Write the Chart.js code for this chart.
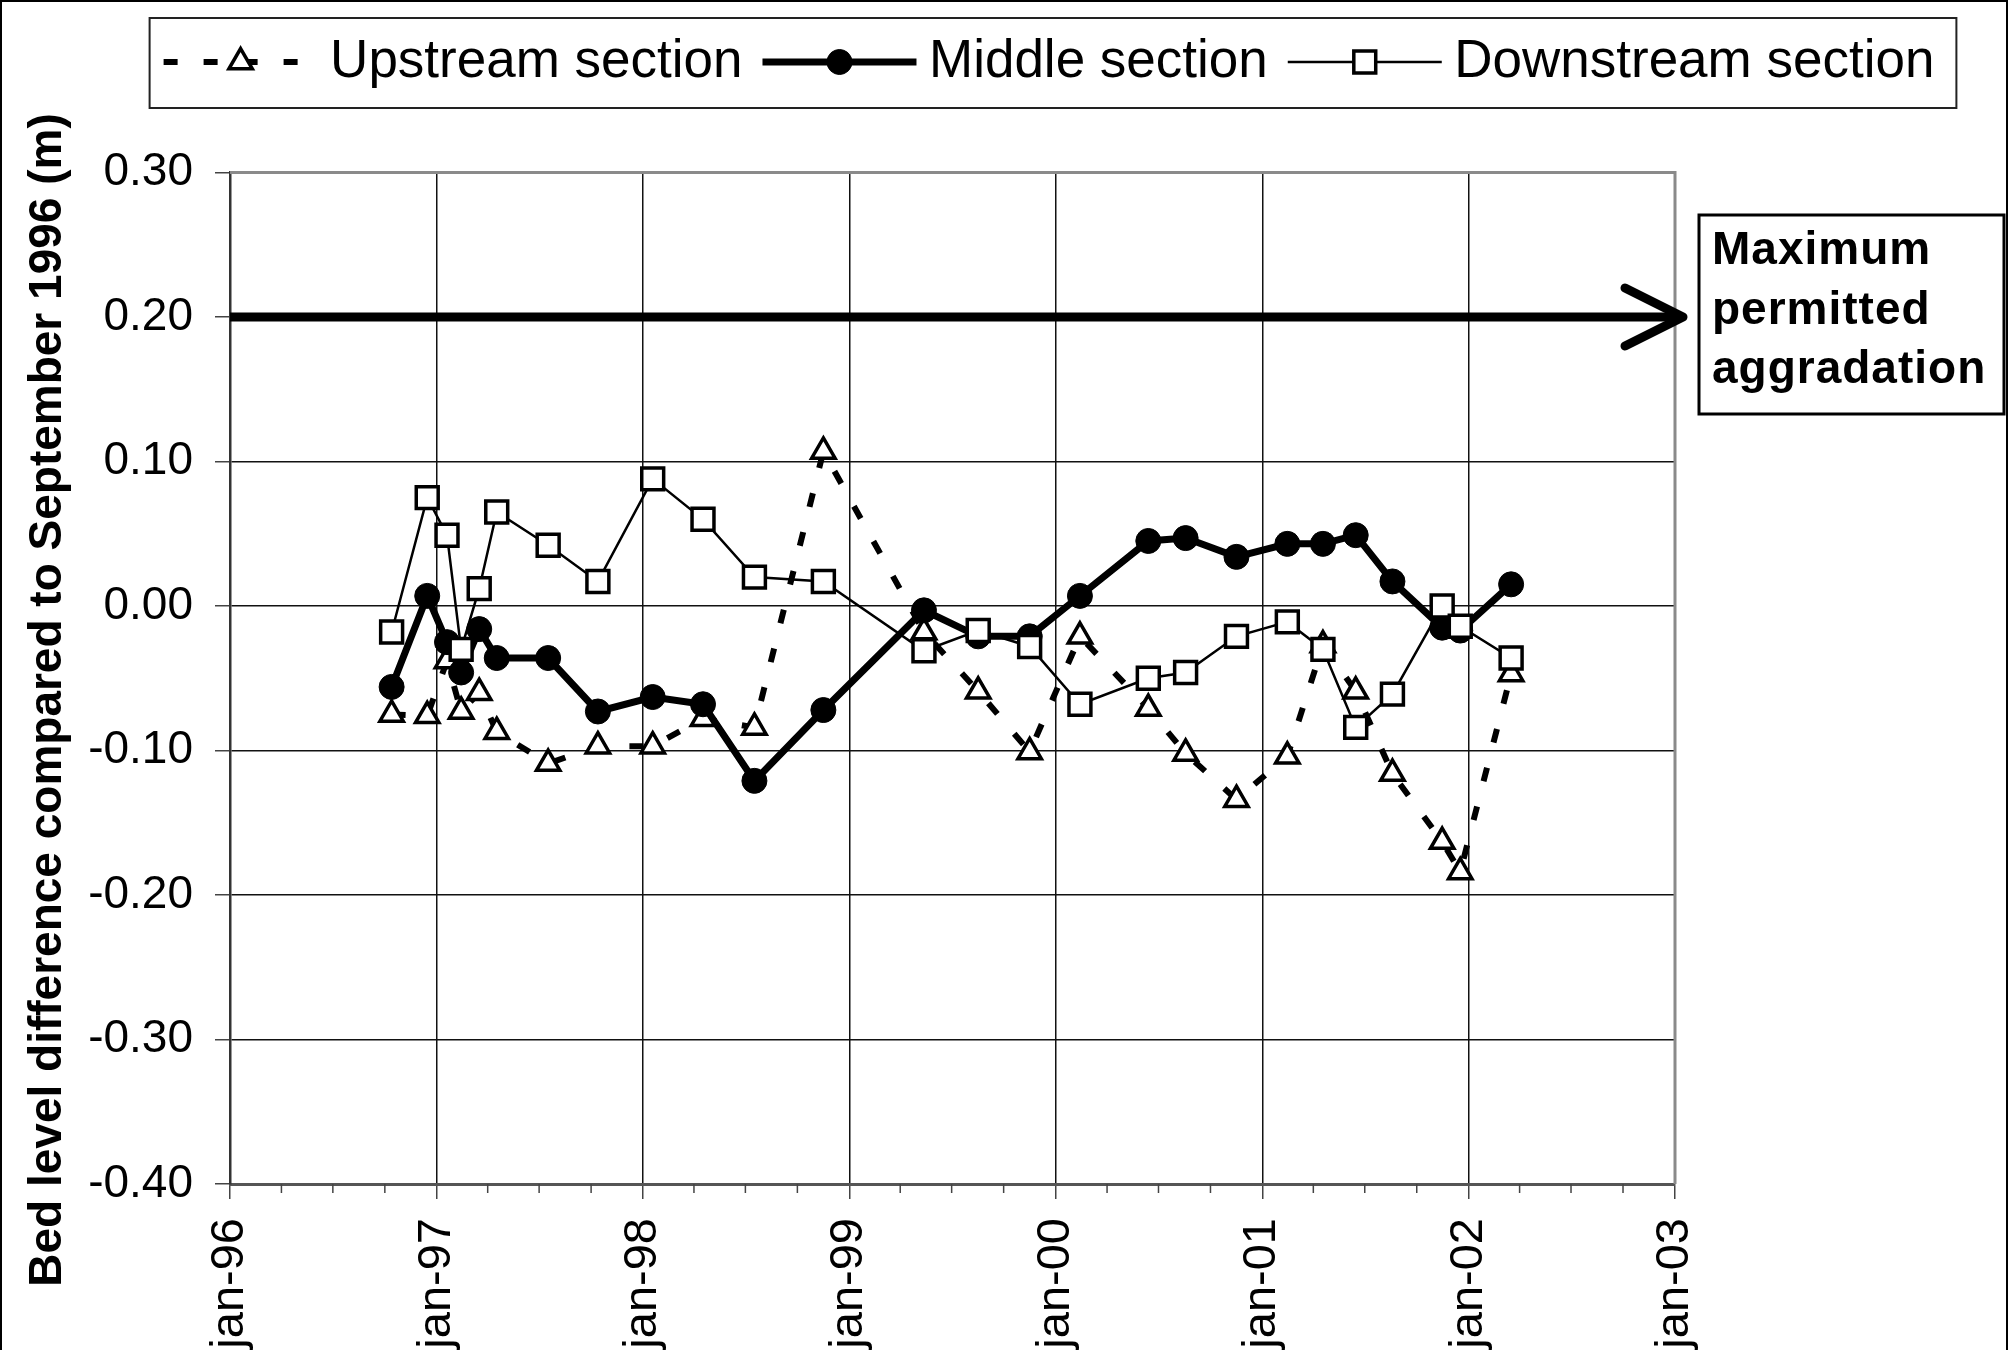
<!DOCTYPE html>
<html>
<head>
<meta charset="utf-8">
<script src="https://cdn.jsdelivr.net/npm/chart.js@4.4.1/dist/chart.umd.min.js"></script>
<style>
  html, body { margin: 0; padding: 0; background: #fff; overflow: hidden; }
  #wrap { width: 2013px; height: 1350px; }
</style>
</head>
<body>
<div id="wrap"><canvas id="chart" width="2013" height="1350"></canvas></div>
<script>
// survey campaigns (same dates for the three river sections)
const surveyDates = [
    '1996-10-13', '1996-12-15', '1997-01-19', '1997-02-13', '1997-03-17', '1997-04-17',
    '1997-07-17', '1997-10-13', '1998-01-18', '1998-04-17', '1998-07-17', '1998-11-16',
    '1999-05-13', '1999-08-17', '1999-11-16', '2000-02-13', '2000-06-13', '2000-08-18',
    '2000-11-16', '2001-02-14', '2001-04-18', '2001-06-15', '2001-08-19', '2001-11-15',
    '2001-12-17', '2002-03-17'
];

// bed level difference compared to September 1996 (m)
const upstream = [
    -0.075, -0.076, -0.038, -0.073, -0.060, -0.087, -0.109, -0.097, -0.097, -0.078,
    -0.084, 0.107, -0.018, -0.059, -0.101, -0.021, -0.071, -0.102, -0.134, -0.104,
    -0.027, -0.059, -0.116, -0.163, -0.184, -0.047
];
const middle = [
    -0.056, 0.007, -0.025, -0.046, -0.016, -0.036, -0.036, -0.073, -0.063, -0.068,
    -0.121, -0.072, -0.003, -0.021, -0.021, 0.007, 0.045, 0.047, 0.034, 0.043,
    0.043, 0.049, 0.017, -0.015, -0.017, 0.015
];
const downstream = [
    -0.018, 0.075, 0.049, -0.030, 0.012, 0.065, 0.042, 0.017, 0.088, 0.060,
    0.020, 0.017, -0.031, -0.017, -0.028, -0.068, -0.050, -0.046, -0.021, -0.011,
    -0.030, -0.084, -0.061, 0.000, -0.014, -0.036
];

const tickDates = ['1996-01-01', '1997-01-01', '1998-01-01', '1999-01-01',
                   '2000-01-01', '2001-01-01', '2002-01-01', '2003-01-01'];
const tickLabels = ['jan-96', 'jan-97', 'jan-98', 'jan-99', 'jan-00', 'jan-01', 'jan-02', 'jan-03'];
const yTickValues = [-0.4, -0.3, -0.2, -0.1, 0, 0.1, 0.2, 0.3];

const maxAggradation = 0.20;
const noteLines = ['Maximum', 'permitted', 'aggradation'];
const yTitle = 'Bed level difference compared to September 1996 (m)';

const FONT = "'Liberation Sans', Arial, sans-serif";
const toTime = d => Date.parse(d);
const toPoints = vals => vals.map((v, i) => ({ x: toTime(surveyDates[i]), y: v }));

function drawMarker(ctx, style, r, x, y, fill, lw) {
    ctx.save();
    ctx.setLineDash([]);
    ctx.lineWidth = lw;
    ctx.fillStyle = fill;
    ctx.strokeStyle = '#000';
    ctx.beginPath();
    if (style === 'circle') {
        ctx.arc(x, y, r, 0, Math.PI * 2);
    } else if (style === 'rect') {
        const s = r * Math.SQRT1_2;
        ctx.rect(x - s, y - s, 2 * s, 2 * s);
    } else {
        ctx.moveTo(x, y - r);
        ctx.lineTo(x + r * Math.sin(2 * Math.PI / 3), y - r * Math.cos(2 * Math.PI / 3));
        ctx.lineTo(x + r * Math.sin(4 * Math.PI / 3), y - r * Math.cos(4 * Math.PI / 3));
        ctx.closePath();
    }
    ctx.fill();
    ctx.stroke();
    ctx.restore();
}

// move the legend row to where the excel legend box sits
const legendPlacement = {
    id: 'legendPlacement',
    afterLayout(chart) {
        const lg = chart.legend;
        const dy = 15.5 - lg.top, dx = 42.5;
        lg.top += dy; lg.bottom += dy;
        lg.left += dx; lg.right += dx;
    }
};

// grey plot-area border (top + right), drawn over the grid
const plotBorder = {
    id: 'plotBorder',
    beforeDatasetsDraw(chart) {
        const { ctx, chartArea: a } = chart;
        ctx.save();
        ctx.strokeStyle = '#8a8a8a';
        ctx.lineWidth = 3;
        ctx.beginPath();
        ctx.moveTo(a.left, a.top);
        ctx.lineTo(a.right, a.top);
        ctx.lineTo(a.right, a.bottom);
        ctx.stroke();
        ctx.restore();
    }
};

// arrow head at the end of the maximum aggradation line
const arrowHead = {
    id: 'arrowHead',
    afterDatasetsDraw(chart) {
        const meta = chart.getDatasetMeta(3);
        const end = meta.data[meta.data.length - 1];
        const ctx = chart.ctx;
        const tipX = end.x + 8, y = end.y;
        ctx.save();
        ctx.strokeStyle = '#000';
        ctx.lineWidth = 9;
        ctx.lineCap = 'round';
        ctx.lineJoin = 'round';
        ctx.beginPath();
        ctx.moveTo(tipX - 58, y - 29);
        ctx.lineTo(tipX, y);
        ctx.lineTo(tipX - 58, y + 29);
        ctx.stroke();
        ctx.restore();
    }
};

const extras = {
    id: 'extras',
    afterDraw(chart) {
        const { ctx, chartArea: a } = chart;
        const xs = chart.scales.x;

        // quarterly minor ticks under the date axis
        ctx.save();
        ctx.strokeStyle = '#444';
        ctx.lineWidth = 1.5;
        for (let yr = 1996; yr < 2003; yr++) {
            for (let m = 3; m < 12; m += 3) {
                const px = xs.getPixelForValue(Date.UTC(yr, m, 1));
                ctx.beginPath();
                ctx.moveTo(px, a.bottom);
                ctx.lineTo(px, a.bottom + 9);
                ctx.stroke();
            }
        }
        ctx.restore();

        // y axis title (sits a little below the plot centre, as in the original)
        ctx.save();
        ctx.translate(48, 700);
        ctx.rotate(-Math.PI / 2);
        ctx.fillStyle = '#000';
        ctx.font = 'bold 46px ' + FONT;
        ctx.textAlign = 'center';
        ctx.textBaseline = 'middle';
        ctx.fillText(yTitle, 0, 0);
        ctx.restore();

        // legend samples (line + marker) and frame
        const lg = chart.legend;
        const boxW = lg.options.labels.boxWidth;
        const sampleW = boxW + 14;
        const hbs = lg.legendHitBoxes;
        let cy = 0;
        lg.legendItems.forEach((item, i) => {
            const hb = hbs[i];
            const ds = chart.data.datasets[item.datasetIndex];
            cy = hb.top + hb.height / 2;
            ctx.save();
            ctx.strokeStyle = '#000';
            ctx.lineWidth = ds.borderWidth;
            ctx.setLineDash(ds.borderDash || []);
            ctx.beginPath();
            ctx.moveTo(hb.left, cy);
            ctx.lineTo(hb.left + sampleW, cy);
            ctx.stroke();
            ctx.restore();
            drawMarker(ctx, ds.pointStyle, ds.pointRadius, hb.left + sampleW / 2, cy,
                ds.pointBackgroundColor, ds.pointBorderWidth);
        });
        const first = hbs[0], last = hbs[hbs.length - 1];
        ctx.save();
        ctx.strokeStyle = '#222';
        ctx.lineWidth = 2;
        ctx.strokeRect(first.left - 14, cy - 44, last.left + last.width + 22 - (first.left - 14), 90);
        ctx.restore();

        // note box on the right
        const yLine = chart.scales.y.getPixelForValue(maxAggradation);
        const bx = a.right + 24, by = yLine - 102;
        ctx.save();
        ctx.strokeStyle = '#000';
        ctx.lineWidth = 3;
        ctx.strokeRect(bx, by, 2004 - bx, 199);
        ctx.fillStyle = '#000';
        ctx.font = 'bold 46px ' + FONT;
        ctx.textBaseline = 'alphabetic';
        if ('letterSpacing' in ctx) ctx.letterSpacing = '1px';
        const baselines = [49, 109, 168];
        noteLines.forEach((t, i) => ctx.fillText(t, bx + 13, by + baselines[i]));
        ctx.restore();

        // outer chart frame
        ctx.save();
        ctx.strokeStyle = '#000';
        ctx.lineWidth = 2;
        ctx.beginPath();
        ctx.moveTo(1, 1350);
        ctx.lineTo(1, 1);
        ctx.lineTo(2007, 1);
        ctx.lineTo(2007, 1350);
        ctx.stroke();
        ctx.restore();
    }
};

new Chart(document.getElementById('chart'), {
    type: 'line',
    data: {
        datasets: [
            {
                label: 'Upstream section',
                data: toPoints(upstream),
                borderColor: '#000',
                borderWidth: 6,
                borderDash: [14, 26],
                pointStyle: 'triangle',
                pointRadius: 13.5,
                pointBorderWidth: 3.5,
                pointBorderColor: '#000',
                pointBackgroundColor: '#fff',
                order: 3
            },
            {
                label: 'Middle section',
                data: toPoints(middle),
                borderColor: '#000',
                borderWidth: 7,
                pointStyle: 'circle',
                pointRadius: 12.5,
                pointBorderWidth: 1,
                pointBorderColor: '#000',
                pointBackgroundColor: '#000',
                order: 2
            },
            {
                label: 'Downstream section',
                data: toPoints(downstream),
                borderColor: '#000',
                borderWidth: 2.5,
                pointStyle: 'rect',
                pointRadius: 15.5,
                pointBorderWidth: 3.5,
                pointBorderColor: '#000',
                pointBackgroundColor: '#fff',
                order: 1
            },
            {
                label: 'Maximum permitted aggradation',
                data: [
                    { x: toTime(tickDates[0]), y: maxAggradation },
                    { x: toTime(tickDates[tickDates.length - 1]), y: maxAggradation }
                ],
                borderColor: '#000',
                borderWidth: 9,
                pointRadius: 0,
                clip: false,
                order: 0
            }
        ]
    },
    options: {
        responsive: false,
        animation: false,
        devicePixelRatio: 1,
        events: [],
        layout: { padding: { top: 89.5, left: 0, right: 0, bottom: 0 } },
        plugins: {
            tooltip: { enabled: false },
            title: { display: false },
            legend: {
                position: 'top',
                align: 'center',
                labels: {
                    font: { family: FONT, size: 53 },
                    color: '#000',
                    boxWidth: 140,
                    padding: 20,
                    filter: item => item.datasetIndex < 3,
                    sort: (a, b) => a.datasetIndex - b.datasetIndex,
                    generateLabels(chart) {
                        return Chart.defaults.plugins.legend.labels.generateLabels(chart).map(item =>
                            Object.assign(item, { fillStyle: 'rgba(0,0,0,0)', strokeStyle: 'rgba(0,0,0,0)', lineWidth: 0 }));
                    }
                }
            }
        },
        scales: {
            x: {
                type: 'linear',
                min: toTime(tickDates[0]),
                max: toTime(tickDates[tickDates.length - 1]),
                afterBuildTicks: s => { s.ticks = tickDates.map(d => ({ value: toTime(d) })); },
                afterFit: s => { s.height = 166; },
                ticks: {
                    autoSkip: false,
                    minRotation: 90,
                    maxRotation: 90,
                    padding: 19,
                    color: '#000',
                    font: { family: FONT, size: 47 },
                    callback: (v, i) => tickLabels[i]
                },
                grid: { color: '#111', lineWidth: 1.5, tickLength: 15, tickColor: '#444' },
                border: { display: true, color: '#555', width: 3 }
            },
            y: {
                min: -0.4,
                max: 0.3,
                afterBuildTicks: s => { s.ticks = yTickValues.map(v => ({ value: v })); },
                afterFit: s => { s.width = 230; },
                ticks: {
                    padding: 22,
                    color: '#000',
                    font: { family: FONT, size: 46 },
                    callback: v => (Math.round(v * 100) / 100).toFixed(2)
                },
                grid: { color: '#111', lineWidth: 1.5, tickLength: 15, tickColor: '#444' },
                border: { display: true, color: '#333', width: 2.5 }
            },
            yRight: {
                position: 'right',
                display: true,
                grid: { display: false, drawTicks: false },
                ticks: { display: false },
                border: { display: false },
                afterFit: s => { s.width = 338; }
            }
        }
    },
    plugins: [legendPlacement, plotBorder, arrowHead, extras]
});
</script>
</body>
</html>
